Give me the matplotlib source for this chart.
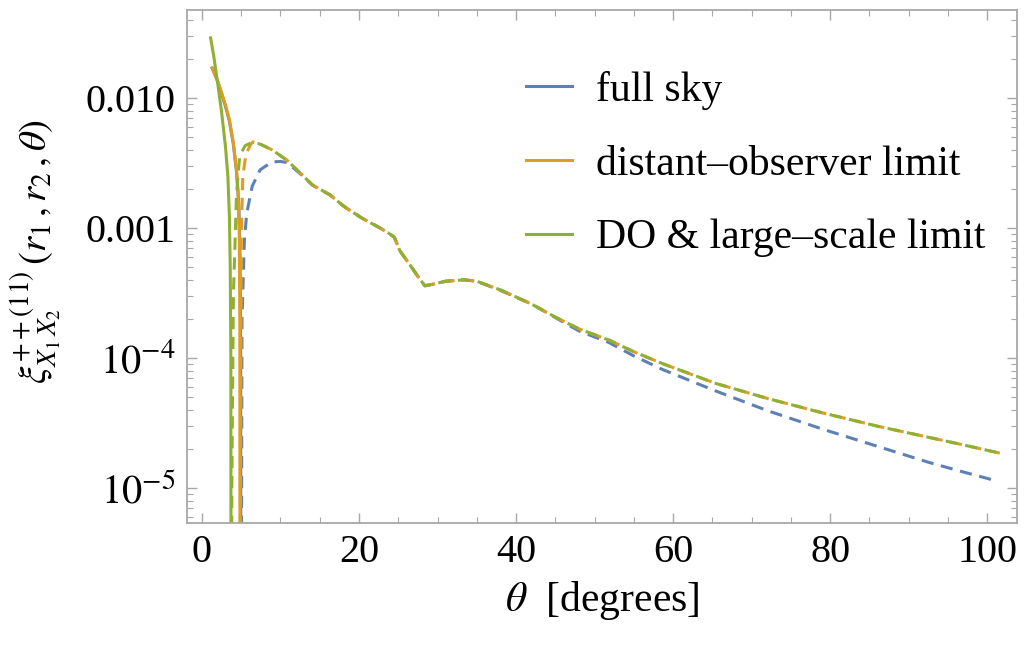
import matplotlib
matplotlib.use("Agg")
import matplotlib.pyplot as plt
from matplotlib.lines import Line2D
from matplotlib.ticker import FixedLocator, FixedFormatter, MultipleLocator

plt.rcParams['font.family'] = ['Liberation Serif', 'DejaVu Serif']
plt.rcParams['mathtext.fontset'] = 'stix'

# full sky: solid = positive part, dashed = |negative part|
full_pos_x = [1.3, 2.0, 2.5, 3.0, 3.5, 4.0, 4.4, 4.7, 4.85, 4.93, 4.96]
full_pos_y = [0.017, 0.0134, 0.0108, 0.0086, 0.0066, 0.0044, 0.0027, 0.0015, 0.0006, 0.0001, 1e-7]
full_neg_x = [4.97, 5.1, 5.4, 5.7, 6.4, 7.4, 8.9, 10.0, 10.8, 12.5, 14.1, 16.3, 18.2, 20.4,
              22.7, 23.7, 24.5, 25.2, 26.5, 27.8, 28.4, 29.4, 31.0, 33.4, 35.0, 38.1, 42.0,
              45.0, 48.0, 51.8, 55.0, 58.6, 65.4, 72.0, 79.0, 86.0, 92.7, 97.0, 100.9]
full_neg_y = [1e-7, 0.0002, 0.0008, 0.0013, 0.0021, 0.0028, 0.00323, 0.00325, 0.0032, 0.00262,
              0.00213, 0.0018, 0.00145, 0.00119, 0.0010, 0.00092, 0.00085, 0.00067, 0.00052,
              0.00040, 0.00036, 0.00037, 0.00039, 0.00040, 0.00039, 0.00033, 0.00026, 0.000205,
              0.000162, 0.000132, 0.000104, 8.2e-5, 5.6e-5, 3.95e-5, 2.85e-5, 2.1e-5, 1.57e-5,
              1.33e-5, 1.15e-5]

# distant-observer limit
do_pos_x = [1.3, 2.0, 2.5, 3.0, 3.5, 4.0, 4.4, 4.6, 4.75, 4.82, 4.85]
do_pos_y = [0.017, 0.0135, 0.011, 0.0088, 0.0068, 0.0045, 0.0028, 0.0019, 0.0009, 0.0002, 1e-7]
do_neg_x = [4.87, 4.9, 5.0, 5.2, 5.6, 6.2, 6.5, 7.5, 8.9, 10.8, 12.5, 14.1, 16.3, 18.2, 20.4,
            22.7, 23.7, 24.5, 25.2, 26.5, 27.8, 28.4, 29.4, 31.0, 33.4, 35.0, 38.1, 42.0,
            45.0, 48.0, 51.8, 55.0, 58.6, 65.4, 72.0, 79.0, 86.0, 92.7, 97.0, 101.6]
do_neg_y = [1e-7, 1e-5, 0.0008, 0.0025, 0.0037, 0.0044, 0.0046, 0.0044, 0.0040, 0.00334,
            0.00265, 0.00214, 0.0018, 0.00145, 0.00119, 0.0010, 0.00092, 0.00085, 0.00067,
            0.00052, 0.00040, 0.00036, 0.00037, 0.00039, 0.00040, 0.00039, 0.000333, 0.00026,
            0.000207, 0.000168, 0.000138, 0.000112, 9.1e-5, 6.4e-5, 4.9e-5, 3.8e-5, 3.0e-5,
            2.45e-5, 2.15e-5, 1.86e-5]

# DO & large-scale limit
ls_pos_x = [1.1, 1.5, 2.0, 2.5, 3.0, 3.3, 3.5, 3.6, 3.68, 3.7]
ls_pos_y = [0.029, 0.021, 0.013, 0.0078, 0.0042, 0.0025, 0.0012, 0.0005, 0.0001, 1e-7]
ls_neg_x = [3.72, 3.8, 4.0, 4.4, 4.8, 5.5, 6.5, 7.5, 8.9, 10.8, 12.5, 14.1, 16.3, 18.2, 20.4,
            22.7, 23.7, 24.5, 25.2, 26.5, 27.8, 28.4, 29.4, 31.0, 33.4, 35.0, 38.1, 42.0,
            45.0, 48.0, 51.8, 55.0, 58.6, 65.4, 72.0, 79.0, 86.0, 92.7, 97.0, 101.6]
ls_neg_y = [1e-7, 1e-5, 0.0003, 0.0018, 0.0036, 0.0043, 0.0046, 0.0044, 0.0040, 0.00334,
            0.00265, 0.00214, 0.0018, 0.00145, 0.00119, 0.0010, 0.00092, 0.00085, 0.00067,
            0.00052, 0.00040, 0.00036, 0.00037, 0.00039, 0.00040, 0.00039, 0.000333, 0.00026,
            0.000207, 0.000168, 0.000138, 0.000112, 9.1e-5, 6.4e-5, 4.9e-5, 3.8e-5, 3.0e-5,
            2.45e-5, 2.15e-5, 1.86e-5]

labels = ["full sky", "distant\u2013observer limit", "DO & large\u2013scale limit"]
colors = ["#5E81B5", "#E19C24", "#8FB032"]

fig = plt.figure(figsize=(10.26, 6.46), dpi=100)
ax = fig.add_axes([0.1823, 0.1904, 0.8090, 0.7941])

series = [(full_pos_x, full_pos_y, full_neg_x, full_neg_y),
          (do_pos_x, do_pos_y, do_neg_x, do_neg_y),
          (ls_pos_x, ls_pos_y, ls_neg_x, ls_neg_y)]
for (px, py, nx, ny), c in zip(series, colors):
    ax.plot(px, py, color=c, lw=2.2)
    ax.plot(nx, ny, color=c, lw=2.2, dashes=(4, 2.5))

ax.set_yscale('log')
ax.set_xlim(-1.9, 103.8)
ax.set_ylim(5.4e-6, 0.0475)

ax.xaxis.set_major_locator(MultipleLocator(20))
ax.xaxis.set_minor_locator(MultipleLocator(5))
ax.yaxis.set_major_locator(FixedLocator([1e-5, 1e-4, 1e-3, 1e-2]))
ax.yaxis.set_major_formatter(FixedFormatter([r'$10^{-5}$', r'$10^{-4}$', '0.001', '0.010']))

for s in ax.spines.values():
    s.set_color('#a8a8a8')
    s.set_linewidth(1.3)
ax.tick_params(which='both', direction='in', top=True, right=True, color='#a8a8a8')
ax.tick_params(which='major', length=7, width=1.0, labelsize=29, pad=8)
ax.tick_params(which='minor', length=4, width=0.8)

ax.set_xlabel(r'$\theta$  [degrees]', fontsize=30, labelpad=6)
ax.set_ylabel(r'$\xi^{++(11)}_{X_1\,X_2}\,(r_1\,,r_2\,,\theta)$', fontsize=28)
ax.yaxis.set_label_coords(-0.15, 0.53)

handles = [Line2D([], [], color=c, lw=2.2) for c in colors]
ax.legend(handles, labels, loc='upper left', bbox_to_anchor=(0.363, 0.955), frameon=False,
          fontsize=30, handlelength=1.1, handletextpad=0.58, labelspacing=0.85)

fig.savefig("out.png", dpi=100)
